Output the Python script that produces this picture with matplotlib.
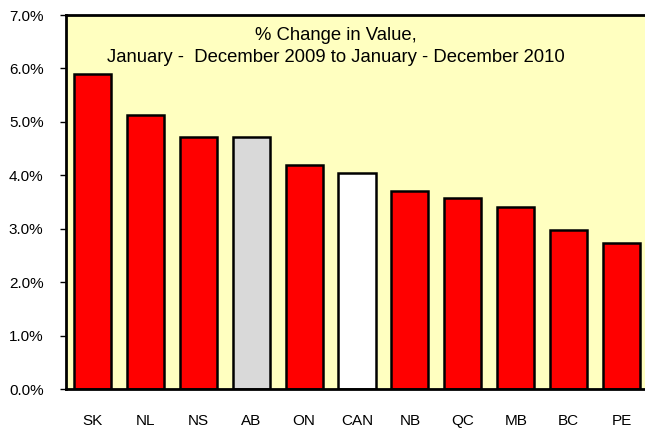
import matplotlib.pyplot as plt
from matplotlib.ticker import FuncFormatter

plt.rcParams['font.family'] = ['Liberation Sans', 'DejaVu Sans']

regions = ['SK', 'NL', 'NS', 'AB', 'ON', 'CAN', 'NB', 'QC', 'MB', 'BC', 'PE']
change = [5.90, 5.13, 4.72, 4.72, 4.19, 4.04, 3.71, 3.58, 3.41, 2.98, 2.73]
colors = ['red', 'red', 'red', '#d9d9d9', 'red', 'white', 'red', 'red', 'red', 'red', 'red']

fig = plt.figure(figsize=(6.45, 4.29), dpi=100)
ax = fig.add_axes([0.102, 0.093, 0.903, 0.872])
ax.set_facecolor('#ffffc0')

ax.bar(range(len(regions)), change, width=0.7, color=colors, edgecolor='black', linewidth=1.8)

ax.set_xlim(-0.5, len(regions) - 0.5)
ax.set_ylim(0, 7)
ax.set_yticks(range(8))
ax.yaxis.set_major_formatter(FuncFormatter(lambda v, p: f'{v:.1f}%'))
ax.set_xticks(range(len(regions)))
ax.set_xticklabels(regions)
ax.tick_params(axis='x', length=0, pad=18, labelsize=11)
ax.tick_params(axis='y', length=4, width=1, pad=12, labelsize=11)

for s in ['left', 'top', 'bottom']:
    ax.spines[s].set_linewidth(2)
ax.spines['right'].set_visible(False)

ax.text(0.463, 0.968, '% Change in Value,\nJanuary -  December 2009 to January - December 2010',
        transform=ax.transAxes, ha='center', va='top', fontsize=13.3, linespacing=1.35)

fig.savefig('out.png', dpi=100)
